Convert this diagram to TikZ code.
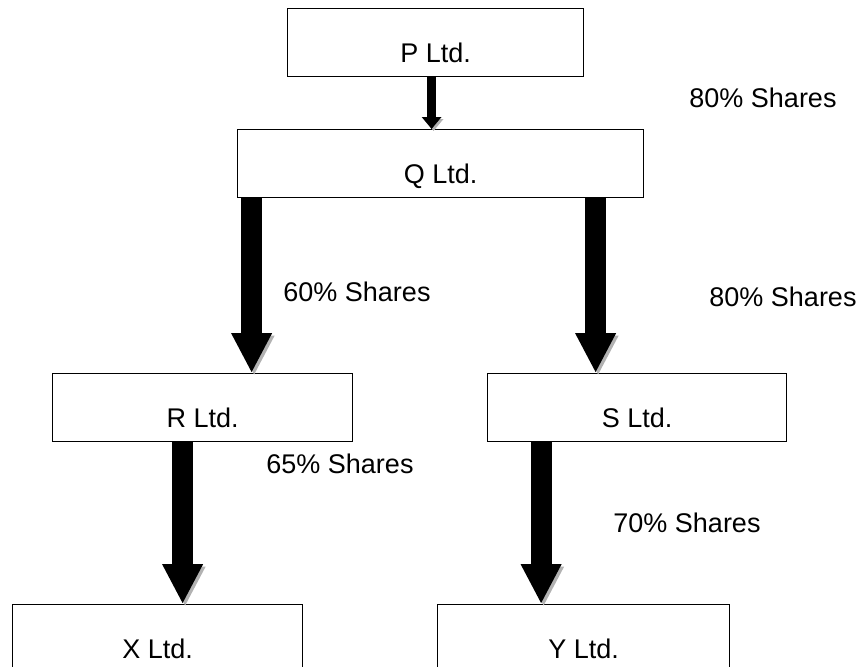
\documentclass[tikz,border=0pt]{standalone}
\usepackage{fontspec}
\setmainfont{Liberation Sans}
\usetikzlibrary{arrows.meta,positioning}

\begin{document}
\begin{tikzpicture}[x=1pt, y=-1pt,
    every node/.style={font=\fontsize{27}{32}\selectfont},
    company/.style={draw, line width=1.2pt, rectangle, anchor=north west, inner xsep=0pt,
        inner ysep=0pt, text height=54pt, text depth=14pt},
    bigarrow/.style={line width=21pt, -{Triangle[width=38pt 0, length=40pt 0]},
        preaction={draw=black!30, transform canvas={xshift=2.5pt, yshift=-2.5pt}}},
    smallarrow/.style={line width=9pt, -{Triangle[width=19pt 0, length=12pt 0]},
        preaction={draw=black!30, transform canvas={xshift=2pt, yshift=-2pt}}}]
    \useasboundingbox (0,0) rectangle (858,666);
    % the companies
    \node [company, minimum width=296pt] (p) at (287,8) {P Ltd.};
    \node [company, minimum width=406pt] (q) at (237,129) {Q Ltd.};
    \node [company, minimum width=300pt] (r) at (52,373) {R Ltd.};
    \node [company, minimum width=299pt] (s) at (487,373) {S Ltd.};
    \node [company, minimum width=290pt] (x) at (12,604) {X Ltd.};
    \node [company, minimum width=292pt] (y) at (437,604) {Y Ltd.};
    % where the arrows leave
    \coordinate (pq) at ([xshift=-4pt]p.south);
    \coordinate (qr) at ([xshift=-189pt]q.south);
    \coordinate (qs) at ([xshift=155pt]q.south);
    \coordinate (rx) at ([xshift=-20pt]r.south);
    \coordinate (sy) at ([xshift=-96pt]s.south);
    \draw [smallarrow] (pq) -- (pq |- q.north);
    \draw [bigarrow] (qr) -- (qr |- r.north);
    \draw [bigarrow] (qs) -- (qs |- s.north);
    \draw [bigarrow] (rx) -- (rx |- x.north);
    \draw [bigarrow] (sy) -- (sy |- y.north);
    % holdings
    \node (pqshare) at (763,98) {80\% Shares};
    \node (qrshare) at (357,292) {60\% Shares};
    \node (qsshare) at (783,297) {80\% Shares};
    \node (rxshare) at (340,464) {65\% Shares};
    \node (syshare) at (687,523) {70\% Shares};
\end{tikzpicture}
\end{document}
